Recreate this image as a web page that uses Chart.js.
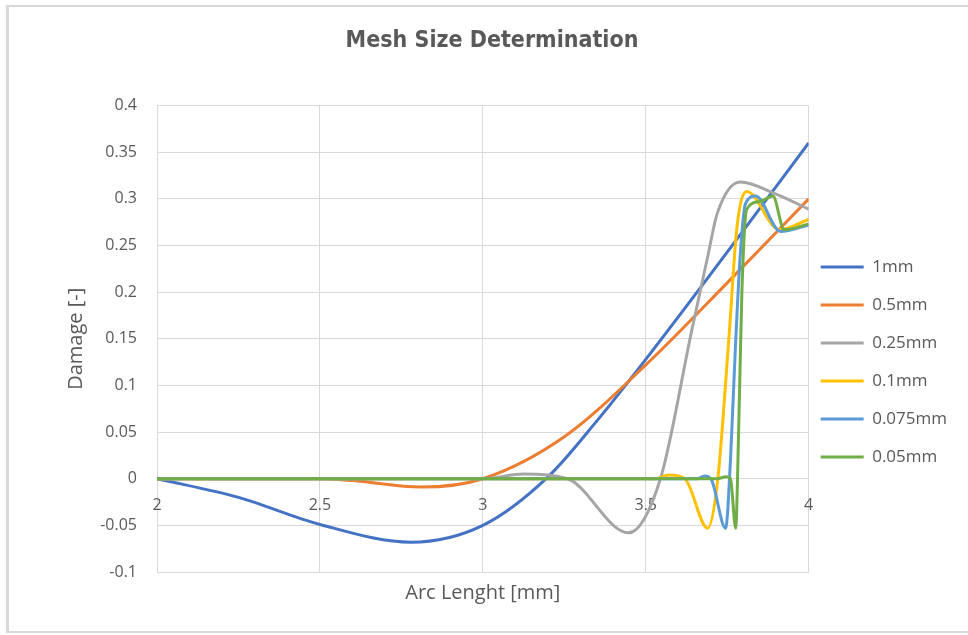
<!DOCTYPE html>
<html>
<head>
<meta charset="utf-8">
<title>Mesh Size Determination</title>
<script src="https://cdn.jsdelivr.net/npm/chart.js@4.4.1/dist/chart.umd.min.js"></script>
<style>
  html, body { margin: 0; padding: 0; background: #fff; }
</style>
</head>
<body>
<canvas id="meshChart" width="968" height="635"></canvas>
<script>
// damage along the arc for each element size
const seriesNames = ['1mm', '0.5mm', '0.25mm', '0.1mm', '0.075mm', '0.05mm'];
const seriesColors = ['#4472C4', '#ED7D31', '#A5A5A5', '#FFC000', '#5B9BD5', '#70AD47'];

const arc1mm = [2, 2.25, 2.5, 2.78, 3, 3.2, 3.35, 3.5, 3.75, 4];
const dmg1mm = [0, -0.02, -0.049, -0.068, -0.05, 0.002, 0.062, 0.128, 0.243, 0.36];

const arc05mm = [2, 2.5, 2.6, 2.81, 3, 3.25, 3.5, 3.75, 4];
const dmg05mm = [0, 0, -0.002, -0.009, 0, 0.045, 0.122, 0.21, 0.3];

const arc025mm = [2, 3, 3.125, 3.26, 3.447, 3.545, 3.64, 3.69, 3.72, 3.79, 3.9, 4];
const dmg025mm = [0, 0, 0.005, 0, -0.058, 0, 0.157, 0.238, 0.285, 0.318, 0.305, 0.289];

const arc01mm = [2, 3.53, 3.57, 3.62, 3.69, 3.72, 3.755, 3.78, 3.81, 3.91, 4];
const dmg01mm = [0, 0, 0.004, 0, -0.053, -0.004, 0.15, 0.27, 0.308, 0.267, 0.278];

const arc0075mm = [2, 3.66, 3.68, 3.7, 3.745, 3.76, 3.775, 3.79, 3.806, 3.837, 3.914, 4];
const dmg0075mm = [0, 0, 0.003, 0, -0.053, 0.02, 0.14, 0.24, 0.295, 0.303, 0.265, 0.272];

const arc005mm = [2, 3.72, 3.745, 3.76, 3.776, 3.785, 3.795, 3.81, 3.85, 3.89, 3.925, 4];
const dmg005mm = [0, 0, 0.002, 0, -0.053, 0.05, 0.2, 0.289, 0.297, 0.303, 0.267, 0.273];

const arcs = [arc1mm, arc05mm, arc025mm, arc01mm, arc0075mm, arc005mm];
const damages = [dmg1mm, dmg05mm, dmg025mm, dmg01mm, dmg0075mm, dmg005mm];

const xTicks = [2, 2.5, 3, 3.5, 4];
const yMin = -0.1, yMax = 0.4, yStep = 0.05;

Chart.defaults.font.family = "'Open Sans', 'Noto Sans', sans-serif";
Chart.defaults.color = '#595959';

// light grey sheet frame behind the chart
const sheetFrame = {
  id: 'sheetFrame',
  beforeDraw(chart) {
    const c = chart.ctx;
    c.save();
    c.fillStyle = '#fff';
    c.fillRect(0, 0, chart.width, chart.height);
    c.fillStyle = '#d9d9d9';
    c.fillRect(6, 5, 3, 628);
    c.fillRect(6, 5, chart.width - 6, 2);
    c.fillRect(6, 631, chart.width - 6, 2);
    c.restore();
  }
};

// pull the legend a little closer to the plot
const legendNudge = {
  id: 'legendNudge',
  afterLayout(chart) {
    chart.legend.left -= 9;
    chart.legend.right -= 9;
  }
};

let datasets = [];
seriesNames.forEach((name, i) => {
  datasets.push({
    label: name,
    data: arcs[i].map((x, k) => ({x: x, y: damages[i][k]})),
    borderColor: seriesColors[i],
    backgroundColor: seriesColors[i],
    borderWidth: 3,
    pointRadius: 0,
    cubicInterpolationMode: 'monotone',
    order: seriesNames.length - i
  });
});

const fmt = v => String(Math.round(v * 100) / 100);

const ctx = document.getElementById('meshChart').getContext('2d');
const meshChart = new Chart(ctx, {
  type: 'line',
  data: { datasets: datasets },
  plugins: [sheetFrame, legendNudge],
  options: {
    responsive: false,
    animation: false,
    layout: { padding: { left: 18, right: 2, top: 0, bottom: 26 } },
    plugins: {
      title: {
        display: true,
        text: 'Mesh Size Determination',
        color: '#595959',
        font: { family: "'Liberation Sans Narrow', 'DejaVu Sans Condensed', sans-serif", size: 23, weight: 'bold' },
        padding: { top: 27, bottom: 51 }
      },
      legend: {
        position: 'right',
        fullSize: false,
        title: { display: true, text: '', font: { size: 12 }, padding: { top: 32, bottom: 0 } },
        labels: {
          boxWidth: 43,
          boxHeight: 3,
          padding: 21,
          font: { size: 17 },
          color: '#595959',
          sort: (a, b) => a.datasetIndex - b.datasetIndex,
          generateLabels(chart) {
            return Chart.defaults.plugins.legend.labels.generateLabels(chart)
              .map(item => Object.assign(item, { fillStyle: item.strokeStyle, lineWidth: 0 }));
          }
        }
      },
      tooltip: { enabled: false }
    },
    scales: {
      x: {
        type: 'linear',
        min: 2,
        max: 4,
        afterBuildTicks(scale) { scale.ticks = xTicks.map(v => ({value: v})); },
        ticks: { display: false },
        grid: { color: '#d9d9d9', drawTicks: false },
        border: { display: false },
        title: { display: true, text: 'Arc Lenght [mm]', font: { size: 20 }, padding: { top: 9, bottom: 4 } }
      },
      xZero: {
        type: 'linear',
        axis: 'x',
        position: { y: 0 },
        min: 2,
        max: 4,
        afterBuildTicks(scale) { scale.ticks = xTicks.map(v => ({value: v})); },
        grid: { display: false, drawTicks: false },
        border: { display: false },
        ticks: { padding: 17, font: { size: 16 }, color: '#595959', callback: fmt }
      },
      y: {
        type: 'linear',
        min: yMin,
        max: yMax,
        afterFit(scale) { scale.width = 139; },
        ticks: {
          stepSize: yStep,
          padding: 20,
          font: { size: 16 },
          callback: fmt
        },
        grid: { color: '#d9d9d9', drawTicks: false },
        border: { display: false },
        title: { display: true, text: 'Damage [-]', font: { size: 20 }, padding: { top: 46, bottom: 4 } }
      }
    }
  }
});
</script>
</body>
</html>
